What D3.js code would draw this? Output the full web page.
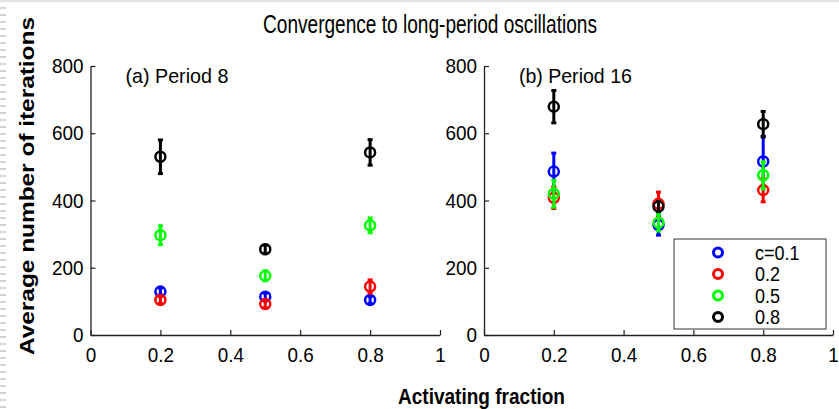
<!DOCTYPE html>
<html>
<head>
<meta charset="utf-8">
<script src="https://cdn.jsdelivr.net/npm/d3@7"></script>
<style>
  body { margin: 0; background: #fff; }
  svg { display: block; }
  text { font-family: "Liberation Sans", Arial, sans-serif; fill: #000; }
</style>
</head>
<body>
<div id="chart"></div>
<script>
// activating fraction values on the x axis
var fractions = [0.2, 0.5, 0.8]
var seriesNames = ['c=0.1', '0.2', '0.5', '0.8']
var seriesColors = ['#0000ff', '#ff0000', '#00ff00', '#000000']

// (a) Period 8 : mean and half error per series
var p8Mean = [
  [129, 114, 104],
  [104, 92, 144],
  [297, 176, 326],
  [530, 255, 543]
]
var p8Err = [
  [10, 10, 10],
  [10, 10, 20],
  [28, 15, 22],
  [50, 12, 38]
]

// (b) Period 16
var p16Mean = [
  [486, 327, 516],
  [408, 390, 431],
  [420, 334, 475],
  [679, 382, 627]
]
var p16Err = [
  [55, 30, 75],
  [32, 35, 35],
  [40, 25, 40],
  [48, 15, 38]
]

var xTicks = [0, 0.2, 0.4, 0.6, 0.8, 1]
var yTicks = [0, 200, 400, 600, 800]

var W = 839, H = 409

var svg = d3.select('#chart').append('svg')
  .attr('width', W)
  .attr('height', H)

// squeeze a text horizontally (the original font is a narrow one)
function narrow(sel, factor) {
  sel.each(function () {
    var len = this.getComputedTextLength()
    d3.select(this)
      .attr('textLength', len * factor)
      .attr('lengthAdjust', 'spacingAndGlyphs')
  })
}

// slide frame leftovers: light dashes on the left, thin line on top
svg.append('line')
  .attr('x1', 3).attr('x2', 3).attr('y1', 0).attr('y2', H)
  .style('stroke', '#d4d4d4')
  .style('stroke-width', 6)
  .style('stroke-dasharray', '2,5')
svg.append('line')
  .attr('x1', 0).attr('x2', W).attr('y1', 1).attr('y2', 1)
  .style('stroke', '#e2e2e2')
  .style('stroke-width', 2)

var y = d3.scaleLinear().domain([0, 800]).range([335, 66])

function drawPanel(left, right, label, labelLen, means, errs) {
  var x = d3.scaleLinear().domain([0, 1]).range([left, right])
  var g = svg.append('g')

  var xAxis = g.append('g')
    .attr('transform', 'translate(0,' + y(0) + ')')
    .call(d3.axisBottom(x).tickValues(xTicks).tickFormat(d3.format('~g'))
      .tickSizeInner(-5).tickSizeOuter(0).tickPadding(12))
  var yAxis = g.append('g')
    .attr('transform', 'translate(' + left + ',0)')
    .call(d3.axisLeft(y).tickValues(yTicks)
      .tickSizeInner(-5).tickSizeOuter(0).tickPadding(7))

  ;[xAxis, yAxis].forEach(function (a) {
    a.select('.domain').style('stroke', '#222').style('stroke-width', 1.3)
    a.selectAll('.tick line').style('stroke', '#222').style('stroke-width', 1.2)
    a.selectAll('.tick text')
      .style('font-family', '"Liberation Sans", Arial, sans-serif')
      .style('font-size', '21px')
      .style('fill', '#000')
    narrow(a.selectAll('.tick text'), 0.9)
  })

  g.append('text')
    .attr('x', x(0.1))
    .attr('y', 83)
    .style('font-size', '21px')
    .attr('textLength', labelLen)
    .attr('lengthAdjust', 'spacingAndGlyphs')
    .text(label)

  for (var s = 0; s < seriesNames.length; s++) {
    var col = seriesColors[s]
    for (var i = 0; i < fractions.length; i++) {
      var cx = x(fractions[i])
      var m = means[s][i], e = errs[s][i]
      var top = y(m + e), bot = y(m - e)
      g.append('line')
        .attr('x1', cx).attr('x2', cx).attr('y1', top).attr('y2', bot)
        .style('stroke', col).style('stroke-width', 3)
      g.append('line')
        .attr('x1', cx - 2.5).attr('x2', cx + 2.5).attr('y1', top).attr('y2', top)
        .style('stroke', col).style('stroke-width', 3)
      g.append('line')
        .attr('x1', cx - 2.5).attr('x2', cx + 2.5).attr('y1', bot).attr('y2', bot)
        .style('stroke', col).style('stroke-width', 3)
      g.append('circle')
        .attr('cx', cx).attr('cy', y(m)).attr('r', 5)
        .style('fill', 'none')
        .style('stroke', col).style('stroke-width', 2.5)
    }
  }
  return x
}

drawPanel(90.5, 440, '(a) Period 8', 103, p8Mean, p8Err)
drawPanel(484, 833, '(b) Period 16', 113, p16Mean, p16Err)

// legend
var legend = svg.append('g')
legend.append('rect')
  .attr('x', 674).attr('y', 239).attr('width', 152).attr('height', 90)
  .style('fill', '#fff').style('stroke', '#333').style('stroke-width', 1)
seriesNames.forEach(function (name, i) {
  var ry = 252.5 + i * 21.5
  legend.append('circle')
    .attr('cx', 718).attr('cy', ry).attr('r', 4.5)
    .style('fill', 'none')
    .style('stroke', seriesColors[i]).style('stroke-width', 3)
  legend.append('text')
    .attr('x', 755).attr('y', ry + 7)
    .style('font-size', '20px')
    .text(name)
})
narrow(legend.selectAll('text'), 0.9)

// titles
svg.append('text')
  .attr('x', 430).attr('y', 33)
  .attr('text-anchor', 'middle')
  .style('font-size', '25px')
  .attr('textLength', 334)
  .attr('lengthAdjust', 'spacingAndGlyphs')
  .text('Convergence to long-period oscillations')

svg.append('text')
  .attr('x', 481.5).attr('y', 404)
  .attr('text-anchor', 'middle')
  .style('font-size', '22px')
  .style('font-weight', 'bold')
  .attr('textLength', 167)
  .attr('lengthAdjust', 'spacingAndGlyphs')
  .text('Activating fraction')

svg.append('text')
  .attr('transform', 'translate(34,186) rotate(-90)')
  .attr('text-anchor', 'middle')
  .style('font-size', '21px')
  .style('font-weight', 'bold')
  .attr('textLength', 338)
  .attr('lengthAdjust', 'spacingAndGlyphs')
  .text('Average number of iterations')
</script>
</body>
</html>
